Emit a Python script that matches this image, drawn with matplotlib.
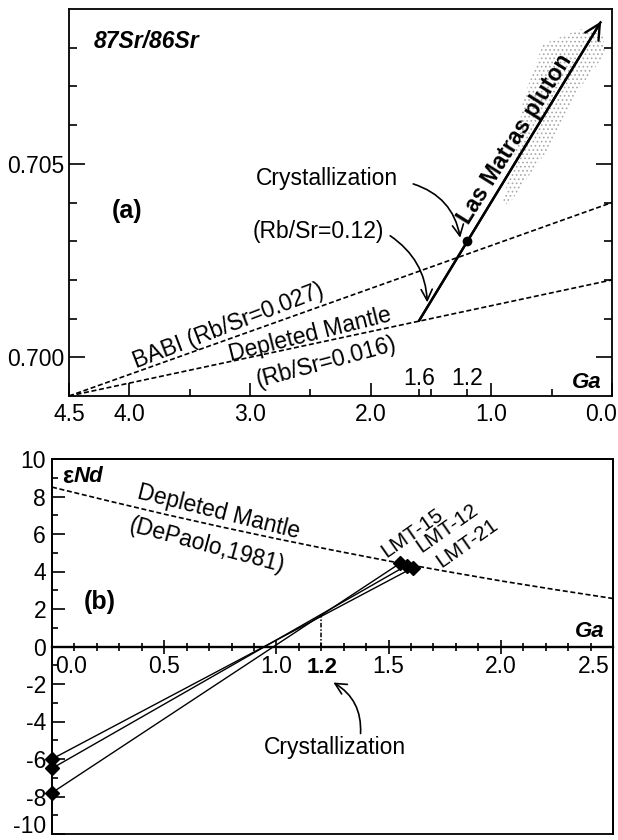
import numpy as np
import matplotlib
matplotlib.use('Agg')
import matplotlib.pyplot as plt
from matplotlib.transforms import ScaledTranslation
from matplotlib.patches import Polygon, Rectangle

plt.rcParams['font.family'] = ['Liberation Sans', 'DejaVu Sans']
plt.rcParams['hatch.linewidth'] = 0.7

# ---------------- data : panel (a) ----------------
babi_t = [4.5, 0.0]
babi_sr = [0.6990, 0.7040]
dm_t = [4.5, 0.0]
dm_sr = [0.6990, 0.7020]
lm_t = [1.6, 0.09]
lm_sr = [0.70094, 0.70868]
cryst_t = [1.2]
cryst_sr = [0.7030]
field_t = [0.571, 0.265, 0.075, 0.058, 0.265, 0.406, 0.538, 0.737, 0.861, 0.902, 0.869, 0.786, 0.737, 0.654]
field_sr = [0.70809, 0.70848, 0.70835, 0.70784, 0.70696, 0.70611, 0.70534, 0.70448, 0.70392, 0.70405, 0.70448, 0.70552, 0.70662, 0.70740]
a_xticks = [4.5, 4.0, 3.0, 2.0, 1.0, 0.0]
a_xticklabels = ['4.5', '4.0', '3.0', '2.0', '1.0', '0.0']
a_xminor = [3.5, 2.5, 1.6, 1.5, 1.2, 0.5]
a_yticks = [0.700, 0.705]
a_yticklabels = ['0.700', '0.705']
a_yminor = [0.701, 0.702, 0.703, 0.704, 0.706, 0.707, 0.708]

# ---------------- data : panel (b) ----------------
dmnd_t = [0.0, 0.25, 0.5, 0.75, 1.0, 1.25, 1.5, 1.75, 2.0, 2.25, 2.5]
dmnd_e = [8.5, 7.77, 7.06, 6.39, 5.75, 5.14, 4.56, 4.02, 3.5, 3.02, 2.56]
samples = ['LMT-15', 'LMT-12', 'LMT-21']
samp_tdm = [1.55, 1.58, 1.61]
samp_e_tdm = [4.43, 4.32, 4.21]
samp_e_0 = [-7.8, -6.5, -6.0]
cryst_age = 1.2
cryst_e = 1.7
b_xticks = [0.0, 0.5, 1.0, 1.5, 2.0, 2.5]
b_xticklabels = ['0.0', '0.5', '1.0', '1.5', '2.0', '2.5']
b_xminor = [0.1, 0.2, 0.3, 0.4, 0.6, 0.7, 0.8, 0.9, 1.1, 1.2, 1.3, 1.4,
            1.6, 1.7, 1.8, 1.9, 2.1, 2.2, 2.3, 2.4]
b_yticks = [-10, -8, -6, -4, -2, 0, 2, 4, 6, 8, 10]
b_yticklabels = ['-10', '-8', '-6', '-4', '-2', '0', '2', '4', '6', '8', '10']
b_yminor = [-9, -7, -5, -3, -1, 1, 3, 5, 7, 9]

FS = 16.5
DASH = (0, (3, 1.6))
ARROW = '->,head_length=0.5,head_width=0.25'

fig = plt.figure(figsize=(6.18, 8.4), dpi=100)
ax1 = fig.add_axes([69 / 618, 1 - 396 / 840, 543 / 618, 387 / 840])
ax2 = fig.add_axes([52 / 618, 1 - 834 / 840, 561 / 618, 375 / 840])

# ================= panel (a) =================
ax1.set_xlim(4.5, 0.0)
ax1.set_ylim(0.699, 0.709)
for s in ax1.spines.values():
    s.set_linewidth(1.3)

ax1.add_patch(Polygon(list(zip(field_t, field_sr)), closed=True, facecolor='none',
                      edgecolor='#a8a8a8', hatch='....', lw=0))
ax1.plot(babi_t, babi_sr, color='k', lw=1.2, ls=DASH)
ax1.plot(dm_t, dm_sr, color='k', lw=1.2, ls=DASH)
ax1.plot(lm_t, lm_sr, color='k', lw=1.7, solid_capstyle='butt')
ax1.annotate('', xy=(lm_t[1], lm_sr[1]), xytext=(lm_t[0], lm_sr[0]),
             arrowprops=dict(arrowstyle='->,head_length=0.55,head_width=0.28', lw=1.7,
                             color='k', shrinkA=0, shrinkB=0, mutation_scale=20))
ax1.plot(cryst_t, cryst_sr, 'o', color='k', ms=6)

ax1.set_xticks(a_xticks)
ax1.set_xticklabels(a_xticklabels)
ax1.set_xticks(a_xminor, minor=True)
ax1.set_yticks(a_yticks)
ax1.set_yticklabels(a_yticklabels)
ax1.set_yticks(a_yminor, minor=True)
ax1.tick_params(axis='x', which='major', direction='in', length=9.4, width=1.2,
                pad=5, labelsize=FS, top=False)
ax1.tick_params(axis='x', which='minor', direction='in', length=5, width=1.2, top=False)
ax1.tick_params(axis='y', which='major', direction='in', length=11.5, width=1.2,
                pad=3, labelsize=FS, left=True, right=True)
ax1.tick_params(axis='y', which='minor', direction='in', length=5.8, width=1.2,
                left=True, right=True)
lab = ax1.get_xticklabels()[-1]
lab.set_horizontalalignment('right')
lab.set_transform(lab.get_transform() + ScaledTranslation(5 / 100, 0, fig.dpi_scale_trans))

ax1.text(4.296, 0.70817, '87Sr/86Sr', fontsize=16.5, fontweight='bold', fontstyle='italic',
         ha='left', va='center')
ax1.text(4.015, 0.70379, '(a)', fontsize=18, fontweight='bold', ha='center', va='center')
ax1.text(2.359, 0.70461, 'Crystallization', fontsize=FS, ha='center', va='center')
ax1.text(2.434, 0.70325, '(Rb/Sr=0.12)', fontsize=FS, ha='center', va='center')
ax1.text(0.80, 0.70564, 'Las Matras pluton', fontsize=16.5, fontweight='bold', rotation=58,
         rotation_mode='anchor', ha='center', va='center')
ax1.text(3.179, 0.70082, 'BABI (Rb/Sr=0.027)', fontsize=FS, rotation=21,
         rotation_mode='anchor', ha='center', va='center')
ax1.text(2.50, 0.70059, 'Depleted Mantle', fontsize=FS, rotation=14,
         rotation_mode='anchor', ha='center', va='center')
ax1.text(2.368, 0.69987, '(Rb/Sr=0.016)', fontsize=FS, rotation=15,
         rotation_mode='anchor', ha='center', va='center')
ax1.text(1.6, 0.69945, '1.6', fontsize=FS, ha='center', va='center')
ax1.text(1.2, 0.69945, '1.2', fontsize=FS, ha='center', va='center')
ax1.text(0.207, 0.69936, 'Ga', fontsize=16, fontweight='bold', fontstyle='italic',
         ha='center', va='center')

ax1.annotate('', xy=(1.258, 0.70309), xytext=(1.647, 0.70448),
             arrowprops=dict(arrowstyle=ARROW, lw=1.2, color='k', shrinkA=0, shrinkB=0,
                             mutation_scale=16, connectionstyle='arc3,rad=-0.3'))
ax1.annotate('', xy=(1.531, 0.70142), xytext=(1.838, 0.70314),
             arrowprops=dict(arrowstyle=ARROW, lw=1.2, color='k', shrinkA=0, shrinkB=0,
                             mutation_scale=16, connectionstyle='arc3,rad=-0.25'))

# ================= panel (b) =================
ax2.set_xlim(0.0, 2.5)
ax2.set_ylim(-10, 10)
for s in ax2.spines.values():
    s.set_linewidth(1.3)
ax2.spines['bottom'].set_position(('data', 0))
ax2.spines['bottom'].set_linewidth(1.7)
ax2.add_patch(Rectangle((0, 0), 1, 1, transform=ax2.transAxes, fill=False, lw=1.3,
                        edgecolor='k', clip_on=False))

ax2.plot(dmnd_t, dmnd_e, color='k', lw=1.2, ls=DASH)
for i in range(len(samples)):
    ax2.plot([0.0, samp_tdm[i]], [samp_e_0[i], samp_e_tdm[i]], color='k', lw=1.0)
ax2.plot([0.0] * 3, samp_e_0, 'D', color='k', ms=7.5, clip_on=False)
ax2.plot(samp_tdm, samp_e_tdm, 'D', color='k', ms=7.5)
ax2.plot([cryst_age, cryst_age], [0, cryst_e], color='k', lw=1.1, ls=(0, (3, 1.2, 1, 1.2)))

ax2.set_xticks(b_xticks)
ax2.set_xticklabels(b_xticklabels)
ax2.set_xticks(b_xminor, minor=True)
ax2.set_yticks(b_yticks)
ax2.set_yticklabels(b_yticklabels)
ax2.set_yticks(b_yminor, minor=True)
ax2.tick_params(axis='x', which='major', direction='inout', length=9.4, width=1.2,
                pad=1.5, labelsize=FS, top=False)
ax2.tick_params(axis='x', which='minor', direction='inout', length=5.8, width=1.2, top=False)
ax2.tick_params(axis='y', which='major', direction='in', length=9.4, width=1.2,
                pad=4.3, labelsize=FS, right=False)
ax2.tick_params(axis='y', which='minor', direction='in', length=4.3, width=1.2, right=False)
xl = ax2.get_xticklabels()
xl[0].set_horizontalalignment('left')
xl[0].set_transform(xl[0].get_transform() + ScaledTranslation(3 / 100, 0, fig.dpi_scale_trans))
xl[-1].set_horizontalalignment('right')
xl[-1].set_transform(xl[-1].get_transform() + ScaledTranslation(-3 / 100, 0, fig.dpi_scale_trans))
yl = ax2.get_yticklabels()
yl[0].set_verticalalignment('bottom')
yl[0].set_transform(yl[0].get_transform() + ScaledTranslation(0, -4 / 100, fig.dpi_scale_trans))

ax2.text(0.045, 9.07, 'ε', fontsize=17, fontweight='bold', ha='left', va='center')
ax2.text(0.097, 9.07, 'Nd', fontsize=16, fontweight='bold', fontstyle='italic',
         ha='left', va='center')
ax2.text(0.741, 7.15, 'Depleted Mantle', fontsize=FS, rotation=-14,
         rotation_mode='anchor', ha='center', va='center')
ax2.text(0.692, 5.39, '(DePaolo,1981)', fontsize=FS, rotation=-15,
         rotation_mode='anchor', ha='center', va='center')
ax2.text(0.214, 2.35, '(b)', fontsize=18, fontweight='bold', ha='center', va='center')
lmt_x = [1.603, 1.759, 1.848]
lmt_y = [6.03, 6.29, 5.49]
for name, x, y in zip(samples, lmt_x, lmt_y):
    ax2.text(x, y, name, fontsize=15, rotation=35, rotation_mode='anchor',
             ha='center', va='center')
ax2.text(2.397, 0.8, 'Ga', fontsize=16, fontweight='bold', fontstyle='italic',
         ha='center', va='center')
ax2.text(1.205, -1.12, '1.2', fontsize=16, fontweight='bold', ha='center', va='center')
ax2.text(1.263, -5.39, 'Crystallization', fontsize=FS, ha='center', va='center')
ax2.annotate('', xy=(1.254, -1.92), xytext=(1.375, -4.64),
             arrowprops=dict(arrowstyle=ARROW, lw=1.2, color='k', shrinkA=0, shrinkB=0,
                             mutation_scale=16, connectionstyle='arc3,rad=0.3'))

fig.savefig('out.png', dpi=100)
